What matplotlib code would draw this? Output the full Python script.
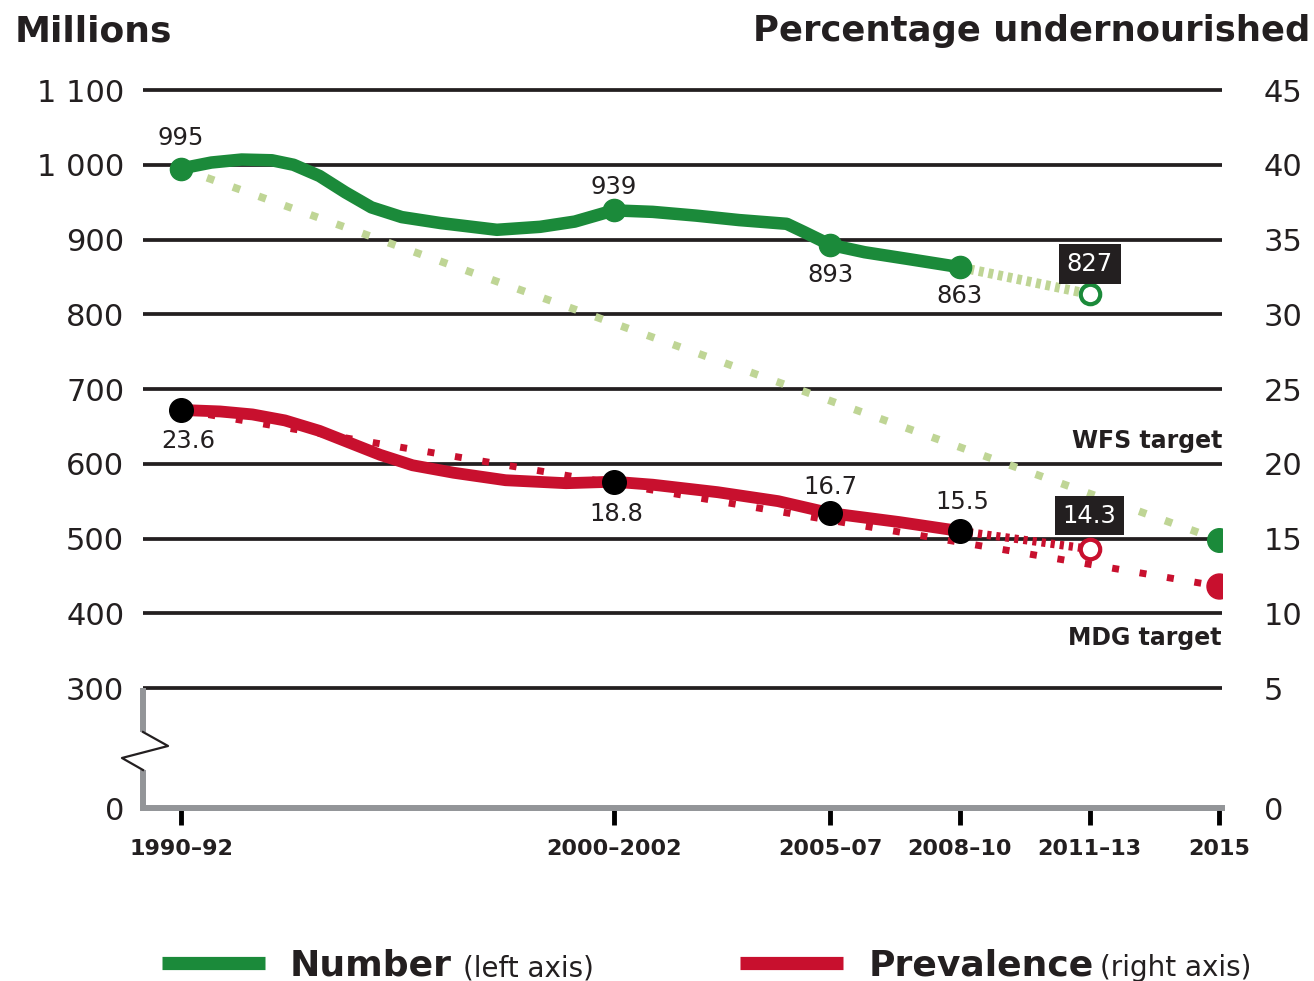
import numpy as np
import matplotlib
matplotlib.use("Agg")
import matplotlib.pyplot as plt
from matplotlib.lines import Line2D

# ---------------- data ----------------
number_years = [1991, 1991.7, 1992.4, 1993.1, 1993.6, 1994.2, 1994.8, 1995.4, 1996.1, 1997.0,
                1998.3, 1999.3, 2000.1, 2001, 2001.9, 2002.9, 2003.9, 2005.0, 2005.4, 2006,
                2006.8, 2007.8, 2009]
number_values = [995, 1003, 1007, 1006, 1000, 985, 963, 943, 930, 922,
                 913, 917, 924, 939, 937, 932, 926, 921, 910, 893,
                 883, 874, 863]
number_key_years = [1991, 2001, 2006, 2009]
number_key_values = [995, 939, 893, 863]
number_proj_years = [2009, 2012]
number_proj_values = [863, 827]
wfs_years = [1991, 2015]
wfs_values = [995, 498]

prev_years = [1991, 1991.9, 1992.65, 1993.4, 1994.2, 1994.9, 1995.6, 1996.35, 1997.3, 1998.5,
              1999.9, 2001, 2001.9, 2003.4, 2004.8, 2006, 2007.6, 2009]
prev_values = [23.6, 23.5, 23.3, 22.9, 22.2, 21.4, 20.6, 19.9, 19.4, 18.9,
               18.7, 18.8, 18.6, 18.1, 17.5, 16.7, 16.1, 15.5]
prev_key_years = [1991, 2001, 2006, 2009]
prev_key_values = [23.6, 18.8, 16.7, 15.5]
prev_proj_years = [2009, 2012]
prev_proj_values = [15.5, 14.3]
mdg_years = [1991, 2015]
mdg_values = [23.6, 11.8]

x_ticks = [1991, 2001, 2006, 2009, 2012, 2015]
x_labels = ["1990–92", "2000–2002", "2005–07", "2008–10", "2011–13", "2015"]
left_ticks = [0, 300, 400, 500, 600, 700, 800, 900, 1000, 1100]
left_labels = ["0", "300", "400", "500", "600", "700", "800", "900", "1 000", "1 100"]
right_ticks = [0, 5, 10, 15, 20, 25, 30, 35, 40, 45]
right_labels = [str(v) for v in right_ticks]

# ---------------- style ----------------
GREEN = "#1b8a3a"
LIGHT_GREEN = "#bfd595"
RED = "#c8102e"
INK = "#231f20"
GREY = "#939598"

plt.rcParams["font.family"] = ["DejaVu Sans"]

# broken-axis scales (values below the break are compressed)
def fwd_left(m):
    m = np.asarray(m, dtype=float)
    return np.where(m >= 300, m, 300 - (300 - m) * 0.535)

def inv_left(v):
    v = np.asarray(v, dtype=float)
    return np.where(v >= 300, v, 300 - (300 - v) / 0.535)

def fwd_right(p):
    p = np.asarray(p, dtype=float)
    return np.where(p >= 5, p, 5 - (5 - p) * 1.605)

def inv_right(v):
    v = np.asarray(v, dtype=float)
    return np.where(v >= 5, v, 5 - (5 - v) / 1.605)

fig = plt.figure(figsize=(13.14, 9.81), dpi=100)
ax = fig.add_axes([143 / 1314, 1 - 808 / 981, (1222 - 143) / 1314, (808 - 80) / 981])
ax2 = ax.twinx()

ax.set_yscale("function", functions=(fwd_left, inv_left))
ax2.set_yscale("function", functions=(fwd_right, inv_right))
ax.set_ylim(0, 1113.4)
ax2.set_ylim(0, 1113.4 / 20 - 10)
ax.set_xlim(1990.12, 2015.06)

# spines
for s in ["top", "right", "left"]:
    ax.spines[s].set_visible(False)
for s in ax2.spines.values():
    s.set_visible(False)
ax.spines["bottom"].set_color(GREY)
ax.spines["bottom"].set_linewidth(4.3)
ax.spines["bottom"].set_zorder(3)

# ticks
ax.set_yticks(left_ticks)
ax.set_yticklabels(left_labels)
ax2.set_yticks(right_ticks)
ax2.set_yticklabels(right_labels)
ax.set_xticks(x_ticks)
ax.set_xticklabels(x_labels, fontweight="bold")
ax.tick_params(axis="y", length=0, pad=13.5, labelsize=22, labelcolor=INK)
ax2.tick_params(axis="y", length=0, pad=30, labelsize=22, labelcolor=INK)
ax.tick_params(axis="x", length=12, width=3.5, color="black", pad=10,
               labelsize=16, labelcolor=INK)

# gridlines above the break
for t in left_ticks[1:]:
    ax.axhline(t, color=INK, lw=2.7, zorder=1)

# left broken spine with zigzag (axes coordinates)
y300 = (808 - 688) / 728
ax.plot([0, 0], [y300, 0.1044], transform=ax.transAxes, color=GREY, lw=4.3,
        clip_on=False, solid_capstyle="butt")
ax.plot([0, 0], [0.0522, 0], transform=ax.transAxes, color=GREY, lw=4.3,
        clip_on=False, solid_capstyle="butt")
ax.plot([0, 0.0232, -0.0195, 0], [0.1044, 0.0852, 0.0687, 0.0522],
        transform=ax.transAxes, color=INK, lw=1.6, clip_on=False)

# ---------- Number (left axis) ----------
ax.plot(wfs_years, wfs_values, color=LIGHT_GREEN, lw=5.5, ls=(0, (1, 2.6)), zorder=2)
ax.plot(number_proj_years, number_proj_values, color=LIGHT_GREEN, lw=7,
        ls=(0, (0.5, 0.5)), zorder=2)
ax.plot(number_years, number_values, color=GREEN, lw=9, solid_joinstyle="round",
        solid_capstyle="round", zorder=3)
ax.plot(number_key_years, number_key_values, "o", color=GREEN, ms=16, zorder=4)
ax.plot(number_proj_years[-1:], number_proj_values[-1:], "o", mfc="white", mec=GREEN,
        ms=14, mew=3, zorder=4)
ax.plot(wfs_years[-1:], wfs_values[-1:], "o", color=GREEN, ms=17, zorder=4)

# ---------- Prevalence (right axis) ----------
ax2.plot(mdg_years, mdg_values, color=RED, lw=5, ls=(0, (1, 3)), zorder=2)
ax2.plot(prev_proj_years, prev_proj_values, color=RED, lw=6, ls=(0, (0.5, 0.6)), zorder=2)
ax2.plot(prev_years, prev_values, color=RED, lw=8.5, solid_joinstyle="round",
         solid_capstyle="round", zorder=3)
ax2.plot(prev_key_years, prev_key_values, "o", color="black", ms=17, zorder=4)
ax2.plot(prev_proj_years[-1:], prev_proj_values[-1:], "o", mfc="white", mec=RED,
         ms=14, mew=3, zorder=4)
ax2.plot(mdg_years[-1:], mdg_values[-1:], "o", color=RED, ms=18, zorder=4)

# value labels
num_offsets = [(0, 22), (0, 17), (0, -21.5), (0, -21)]
for x, v, off in zip(number_key_years, number_key_values, num_offsets):
    ax.annotate(f"{v}", (x, v), xytext=off, textcoords="offset points",
                ha="center", va="center", fontsize=17.5, color=INK, zorder=6)
prev_offsets = [(5, -22), (1.5, -23), (0, 19), (2, 21)]
for x, v, off in zip(prev_key_years, prev_key_values, prev_offsets):
    ax2.annotate(f"{v}", (x, v), xytext=off, textcoords="offset points",
                 ha="center", va="center", fontsize=17.5, color=INK, zorder=6)

box = dict(boxstyle="square,pad=0.32", fc="#231f20", ec="none")
ax.annotate(f"{number_proj_values[-1]}", (number_proj_years[-1], number_proj_values[-1]),
            xytext=(0, 21.5), textcoords="offset points", ha="center", va="center",
            fontsize=17.5, color="white", bbox=box, zorder=6)
ax2.annotate(f"{prev_proj_values[-1]}", (prev_proj_years[-1], prev_proj_values[-1]),
             xytext=(0, 24), textcoords="offset points", ha="center", va="center",
             fontsize=17.5, color="white", bbox=box, zorder=6)

ytr = ax.get_yaxis_transform()
ax.text(1.0, 630, "WFS target", transform=ytr, ha="right", va="center",
        fontsize=17, fontweight="bold", color=INK)
ax.text(1.0, 367, "MDG target", transform=ytr, ha="right", va="center",
        fontsize=17, fontweight="bold", color=INK)

# axis titles
fig.text(15 / 1314, 1 - 41 / 981, "Millions", fontsize=26, fontweight="bold",
         color=INK, ha="left", va="baseline")
fig.text(0.997, 1 - 41 / 981, "Percentage undernourished", fontsize=25.5,
         fontweight="bold", color=INK, ha="right", va="baseline")

# legend
ly = 1 - 963 / 981
base = 1 - 976 / 981
fig.add_artist(Line2D([162 / 1314, 265 / 1314], [ly, ly], transform=fig.transFigure,
                      color=GREEN, lw=9.5, solid_capstyle="butt"))
fig.text(290 / 1314, base, "Number", fontsize=26, fontweight="bold", color=INK,
         va="baseline")
fig.text(463 / 1314, base, "(left axis)", fontsize=20, color=INK, va="baseline")
fig.add_artist(Line2D([740 / 1314, 843 / 1314], [ly, ly], transform=fig.transFigure,
                      color=RED, lw=9.5, solid_capstyle="butt"))
fig.text(869 / 1314, base, "Prevalence", fontsize=26, fontweight="bold", color=INK,
         va="baseline")
fig.text(1100 / 1314, base, "(right axis)", fontsize=20, color=INK, va="baseline")

fig.savefig("out.png", dpi=100)
